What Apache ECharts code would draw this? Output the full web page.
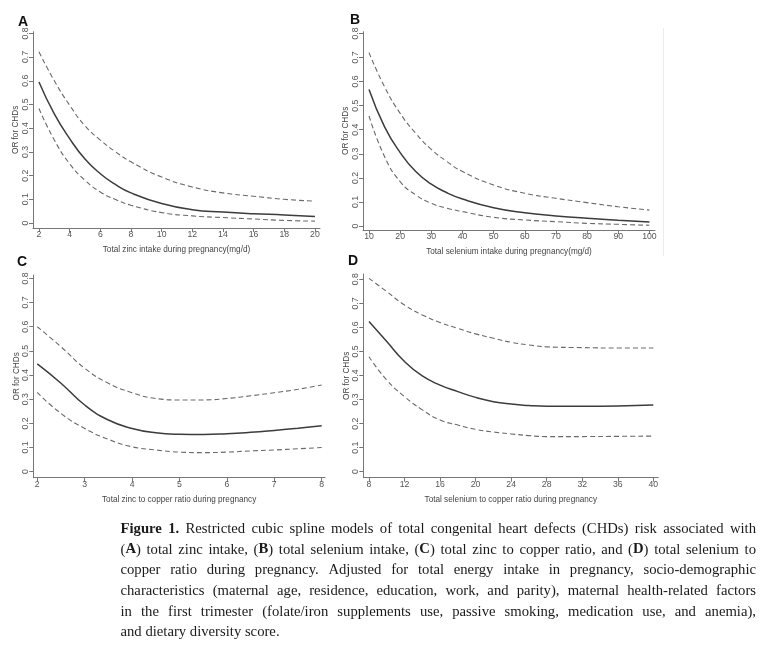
<!DOCTYPE html>
<html><head><meta charset="utf-8">
<script src="https://cdn.jsdelivr.net/npm/echarts@6/dist/echarts.min.js"></script>
<style>html,body{margin:0;padding:0;background:#fff}#c{width:764px;height:671px}</style>
</head><body><div id="c"></div>
<script>
// ---- Panel A: total zinc intake (mg/d)
const aX     = [2, 3, 4, 5, 6, 7, 8, 10, 12, 14, 16, 18, 20];
const aOR    = [0.595, 0.46, 0.356, 0.27, 0.208, 0.162, 0.127, 0.082, 0.056, 0.046, 0.039, 0.034, 0.027];
const aUpper = [0.722, 0.60, 0.497, 0.41, 0.35, 0.30, 0.258, 0.194, 0.152, 0.127, 0.113, 0.10, 0.092];
const aLower = [0.483, 0.35, 0.25, 0.18, 0.131, 0.099, 0.075, 0.044, 0.03, 0.023, 0.017, 0.011, 0.008];
const aTicks = [2, 4, 6, 8, 10, 12, 14, 16, 18, 20];
// ---- Panel B: total selenium intake
const bX     = [10, 15, 20, 25, 30, 35, 40, 50, 60, 70, 80, 90, 100];
const bOR    = [0.567, 0.412, 0.305, 0.226, 0.174, 0.138, 0.112, 0.076, 0.055, 0.042, 0.032, 0.024, 0.017];
const bUpper = [0.72, 0.578, 0.468, 0.385, 0.318, 0.268, 0.226, 0.17, 0.136, 0.115, 0.097, 0.08, 0.066];
const bLower = [0.457, 0.288, 0.184, 0.129, 0.094, 0.074, 0.06, 0.036, 0.025, 0.018, 0.011, 0.007, 0.003];
const bTicks = [10, 20, 30, 40, 50, 60, 70, 80, 90, 100];
// ---- Panel C: zinc to copper ratio
const cX     = [2, 2.5, 3, 3.5, 4, 4.5, 5, 5.5, 6, 6.5, 7, 7.5, 8];
const cOR    = [0.446, 0.366, 0.276, 0.214, 0.179, 0.161, 0.155, 0.154, 0.157, 0.163, 0.171, 0.18, 0.19];
const cUpper = [0.60, 0.517, 0.428, 0.366, 0.327, 0.303, 0.297, 0.297, 0.303, 0.314, 0.327, 0.341, 0.359];
const cLower = [0.328, 0.241, 0.179, 0.134, 0.103, 0.09, 0.081, 0.079, 0.081, 0.086, 0.09, 0.095, 0.10];
const cTicks = [2, 3, 4, 5, 6, 7, 8];
// ---- Panel D: selenium to copper ratio
const dX     = [8, 10, 12, 14, 16, 18, 20, 22, 24, 26, 28, 32, 36, 40];
const dOR    = [0.624, 0.541, 0.458, 0.398, 0.36, 0.333, 0.309, 0.291, 0.281, 0.275, 0.272, 0.272, 0.273, 0.277];
const dUpper = [0.804, 0.749, 0.693, 0.652, 0.62, 0.596, 0.573, 0.555, 0.538, 0.527, 0.519, 0.516, 0.514, 0.514];
const dLower = [0.478, 0.381, 0.312, 0.257, 0.215, 0.194, 0.176, 0.165, 0.157, 0.15, 0.146, 0.146, 0.147, 0.148];
const dTicks = [8, 12, 16, 20, 24, 28, 32, 36, 40];

const yTicks = [0, 0.1, 0.2, 0.3, 0.4, 0.5, 0.6, 0.7, 0.8];
const panelLetters = ['A', 'B', 'C', 'D'];
const xTitles = [
  'Total zinc intake during pregnancy(mg/d)',
  'Total selenium intake during pregnancy(mg/d)',
  'Total zinc to copper ratio during pregnancy',
  'Total selenium to copper ratio during pregnancy'
];
const yTitle = 'OR for CHDs';
const CAPTION = [
  '{b|Figure} {b|1.} Restricted cubic spline models of total congenital heart defects (CHDs) risk associated with',
  '({b|A}) total zinc intake, ({b|B}) total selenium intake, ({b|C}) total zinc to copper ratio, and ({b|D}) total selenium to',
  'copper ratio during pregnancy. Adjusted for total energy intake in pregnancy, socio-demographic',
  'characteristics (maternal age, residence, education, work, and parity), maternal health-related factors',
  'in the first trimester (folate/iron supplements use, passive smoking, medication use, and anemia),',
  'and dietary diversity score.'
];

const zip = (xs, ys) => xs.map((x, i) => [x, ys[i]]);
const panels = [
  {x: aX, m: aOR, u: aUpper, l: aLower, ticks: aTicks, xmin: 1.61, xmax: 20.33, ymin: -0.021, ymax: 0.807,
   grid: {left: 33, right: 444, top: 31.7, bottom: 443}},
  {x: bX, m: bOR, u: bUpper, l: bLower, ticks: bTicks, xmin: 8.07, xmax: 101.8, ymin: -0.0166, ymax: 0.807,
   grid: {left: 363, right: 109, top: 31.7, bottom: 441}},
  {x: cX, m: cOR, u: cUpper, l: cLower, ticks: cTicks, xmin: 1.916, xmax: 8.07, ymin: -0.0248, ymax: 0.814,
   grid: {left: 33.3, right: 439, top: 275, bottom: 193.3}},
  {x: dX, m: dOR, u: dUpper, l: dLower, ticks: dTicks, xmin: 7.36, xmax: 40.56, ymin: -0.025, ymax: 0.822,
   grid: {left: 363.3, right: 105.7, top: 274, bottom: 193.3}}
];

const AX = '#777', LBL = '#555', SANS = 'Liberation Sans';
const grid = [], xAxis = [], yAxis = [], series = [];
panels.forEach((p, i) => {
  grid.push(p.grid);
  xAxis.push({
    gridIndex: i, type: 'value', min: p.xmin, max: p.xmax,
    splitLine: {show: false},
    axisLine: {onZero: false, lineStyle: {color: AX, width: 1}},
    axisTick: {show: true, length: 4, customValues: p.ticks, lineStyle: {color: AX}},
    axisLabel: {customValues: p.ticks, margin: 2, fontSize: 8.7, color: LBL, fontFamily: SANS},
    name: xTitles[i], nameLocation: 'middle', nameGap: 18,
    nameTextStyle: {fontSize: 8.2, color: '#444', fontFamily: SANS}
  });
  yAxis.push({
    gridIndex: i, type: 'value', min: p.ymin, max: p.ymax,
    splitLine: {show: false},
    axisLine: {show: true, onZero: false, lineStyle: {color: AX, width: 1}},
    axisTick: {show: true, length: 4, customValues: yTicks, lineStyle: {color: AX}},
    axisLabel: {customValues: yTicks, rotate: 90, margin: 3, fontSize: 8.7, color: LBL, fontFamily: SANS},
    name: yTitle, nameLocation: 'middle', nameGap: 13,
    nameTextStyle: {fontSize: 8.2, color: '#444', fontFamily: SANS}
  });
  const base = {type: 'line', xAxisIndex: i, yAxisIndex: i, symbol: 'none', smooth: 0.5,
                silent: true, animation: false};
  series.push(Object.assign({}, base, {data: zip(p.x, p.u), lineStyle: {color: '#6a6a6a', width: 1.1, type: [5, 3]}}));
  series.push(Object.assign({}, base, {data: zip(p.x, p.l), lineStyle: {color: '#6a6a6a', width: 1.1, type: [5, 3]}}));
  series.push(Object.assign({}, base, {data: zip(p.x, p.m), lineStyle: {color: '#3c3c3c', width: 1.5}}));
});

// panel letters
const letterPos = [[18, 22], [350, 20.5], [17, 262], [348, 261.5]];
const graphic = panelLetters.map((t, i) => ({
  type: 'text', x: letterPos[i][0], y: letterPos[i][1],
  style: {text: t, font: 'bold 14px "Liberation Sans"', fill: '#111', textVerticalAlign: 'middle'}
}));
// faint frame line right of panel B
graphic.push({type: 'line', shape: {x1: 663.5, y1: 28, x2: 663.5, y2: 256}, style: {stroke: '#ececec', lineWidth: 1}});

// caption, justified word by word
const CAP_LEFT = 120.5, CAP_RIGHT = 756, CAP_Y0 = 529, CAP_LH = 20.7, CAP_FS = 14.7;
const FAM = '"Liberation Serif"';
const mctx = document.createElement('canvas').getContext('2d');
function parseWord(w) {
  const segs = []; const re = /\{b\|([^}]*)\}/g; let last = 0, m;
  while ((m = re.exec(w))) {
    if (m.index > last) segs.push({b: false, t: w.slice(last, m.index)});
    segs.push({b: true, t: m[1]}); last = re.lastIndex;
  }
  if (last < w.length) segs.push({b: false, t: w.slice(last)});
  return segs;
}
function measure(segs) {
  return segs.reduce((s, g) => { mctx.font = (g.b ? 'bold ' : '') + CAP_FS + 'px ' + FAM; return s + mctx.measureText(g.t).width; }, 0);
}
mctx.font = CAP_FS + 'px ' + FAM;
const spaceW = mctx.measureText(' ').width;
CAPTION.forEach((line, li) => {
  const words = line.split(' ').map(parseWord);
  const widths = words.map(measure);
  const total = widths.reduce((a, b) => a + b, 0);
  const last = li === CAPTION.length - 1;
  const gap = last ? spaceW : (CAP_RIGHT - CAP_LEFT - total) / (words.length - 1);
  let x = CAP_LEFT;
  words.forEach((segs, wi) => {
    graphic.push({
      type: 'text', x: x, y: CAP_Y0 + li * CAP_LH,
      style: {
        text: segs.map(g => g.b ? '{b|' + g.t + '}' : '{n|' + g.t + '}').join(''),
        rich: {
          b: {fontWeight: 'bold', fontSize: CAP_FS, fontFamily: 'Liberation Serif', fill: '#1a1a1a'},
          n: {fontSize: CAP_FS, fontFamily: 'Liberation Serif', fill: '#1a1a1a'}
        },
        fontSize: CAP_FS, fontFamily: 'Liberation Serif', fill: '#1a1a1a', textVerticalAlign: 'middle'
      }
    });
    x += widths[wi] + gap;
  });
});

const chart = echarts.init(document.getElementById('c'), null, {renderer: 'canvas'});
chart.setOption({animation: false, backgroundColor: '#fff', grid, xAxis, yAxis, series, graphic});
</script></body></html>
